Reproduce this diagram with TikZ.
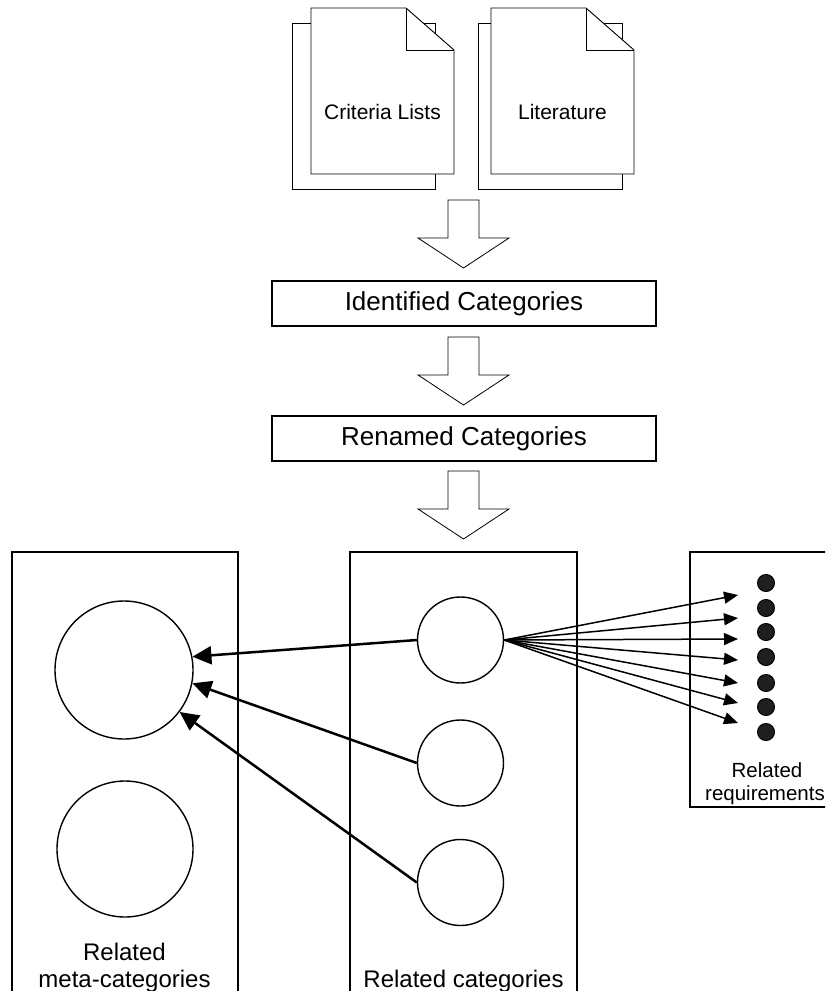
\documentclass[tikz,border=0pt]{standalone}
\usepackage{fontspec}
\setmainfont{Liberation Sans}
\usetikzlibrary{arrows.meta}
\begin{document}
\begin{tikzpicture}[x=1pt,y=-1pt,
  thinline/.style={line width=0.9pt},
  docpage/.style={line width=0.9pt, fill=white},
  procbox/.style={draw, line width=1.2pt, minimum width=384pt, minimum height=45pt, inner sep=0pt, font=\fontsize{26}{30}\selectfont},
  catcirc/.style={draw, circle, line width=1.4pt, inner sep=0pt},
  reqdot/.style={draw, circle, fill=black!88, line width=1pt, minimum size=17pt, inner sep=0pt},
  bigarrow/.style={line width=2.5pt, -{Triangle[length=19pt,width=18pt]}},
  fanarrow/.style={line width=1.5pt, -{Triangle[length=14pt,width=12pt]}},
  doclabel/.style={anchor=base, font=\fontsize{21}{25}\selectfont},
  grouplabel/.style={anchor=base, font=\fontsize{24}{28}\selectfont},
  reqlabel/.style={anchor=base, font=\fontsize{20.5}{24}\selectfont},
  blockarr/.pic={\draw[line width=0.8pt, fill=white] (-15.5,0) -- (15.5,0) -- (15.5,38) -- (45.5,38) -- (0,68) -- (-45.5,38) -- (-15.5,38) -- cycle;}
]
\clip (0,0) rectangle (825,991);

% documents
\draw[docpage] (292,23) rectangle (435,189);
\draw[docpage] (311,8) -- (406,8) -- (454,50) -- (454,174) -- (311,174) -- cycle;
\draw[thinline] (406,8) -- (406,50) -- (454,50);
\node[doclabel] (crit) at (382.5,119) {Criteria Lists};

\draw[docpage] (478,23) rectangle (622,189);
\draw[docpage] (491,8) -- (586,8) -- (634,50) -- (634,174) -- (491,174) -- cycle;
\draw[thinline] (586,8) -- (586,50) -- (634,50);
\node[doclabel] (lit) at (562.5,119) {Literature};

% flow
\pic at (463.5,200) {blockarr};
\node[procbox] (ident) at (464,303.5) {Identified Categories};
\pic at (463.5,337) {blockarr};
\node[procbox] (renamed) at (464,438.5) {Renamed Categories};
\pic at (463.5,471) {blockarr};

% group boxes
\draw[line width=1.2pt] (12,1000) -- (12,552) -- (238,552) -- (238,1000);
\draw[line width=1.2pt] (350,1000) -- (350,552) -- (577,552) -- (577,1000);
\draw[line width=1.2pt] (840,807) -- (690,807) -- (690,552) -- (840,552);

% circles
\node[catcirc, minimum size=138pt] (M1) at (124,670) {};
\node[catcirc, minimum size=136pt] (M2) at (125,849) {};
\node[catcirc, minimum size=86pt] (c1) at (460.5,640) {};
\node[catcirc, minimum size=86pt] (c2) at (460.5,763) {};
\node[catcirc, minimum size=86pt] (c3) at (460.5,882.5) {};

\draw[bigarrow] (c1.west) -- (M1.11);
\draw[bigarrow] (c2.west) -- (M1.-11);
\draw[bigarrow] (c3.west) -- (M1.-37);

% requirements
\foreach \yy [count=\i] in {583,608,632,657,683,707,732}
  \node[reqdot] (d\i) at (766,\yy) {};
\foreach \yy [count=\i] in {595,618,639,660,683,703,723} {
  \coordinate (t\i) at (738,\yy);
  \draw[fanarrow] (c1.east) -- (t\i);
}

% labels
\node[grouplabel] (lblM1) at (124.5,960) {Related};
\node[grouplabel] (lblM2) at (124.5,987) {meta-categories};
\node[grouplabel] (lblC) at (463.5,987) {Related categories};
\node[reqlabel] (lblR1) at (767,777) {Related};
\node[reqlabel] (lblR2) at (765,800) {requirements};
\end{tikzpicture}
\end{document}
